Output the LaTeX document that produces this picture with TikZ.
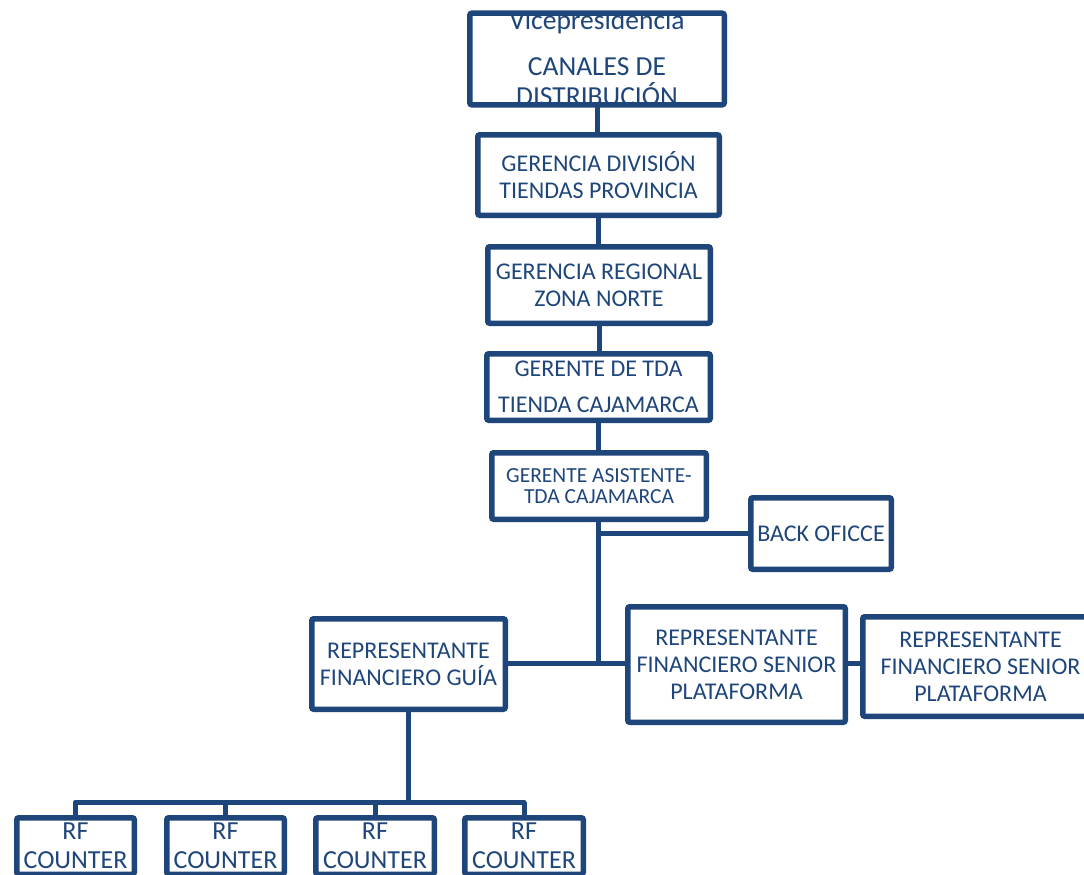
\documentclass[tikz,border=0pt]{standalone}
\usepackage{fontspec}
\setmainfont{Carlito}
\definecolor{navy}{RGB}{31,70,122}
\tikzset{
  x=1pt, y=-1pt,
  orgbox/.style={draw=navy, line width=5.5pt, rounded corners=2pt, fill=white,
    text=navy, align=center, inner sep=0pt, outer sep=0pt},
  link/.style={draw=navy, line width=5pt},
  txtA/.style={font=\fontsize{24}{27}\selectfont},
  txtB/.style={font=\fontsize{21.5}{20.5}\selectfont},
  txtV/.style={font=\fontsize{27.5}{30}\selectfont, text=navy, anchor=base, inner sep=0pt},
  txtC/.style={font=\fontsize{26}{29}\selectfont},
}
\newcommand{\orgnode}[6]{%
  \node[orgbox,#6,minimum width=#3pt-5.5pt,minimum height=#4pt-5.5pt] (#1) at #2 {#5};}
\begin{document}
\begin{tikzpicture}
\useasboundingbox (0,0) rectangle (1084,875);
\fill[white] (0,0) rectangle (1084,875);
\begin{scope}
\clip (0,0) rectangle (1084,875);

% boxes
\orgnode{gd}{(598.5,175)}{247}{86}{GERENCIA DIVISIÓN\\TIENDAS PROVINCIA}{txtA}
\orgnode{gr}{(599,285)}{228}{82}{GERENCIA REGIONAL\\ZONA NORTE}{txtA}
\orgnode{gt}{(598.5,387)}{229}{72}{GERENTE DE TDA\\[9pt]TIENDA CAJAMARCA}{txtA}
\orgnode{ga}{(599,484)}{220}{72}{GERENTE ASISTENTE-\\TDA CAJAMARCA}{txtB,yshift=-2pt}
\orgnode{bo}{(821,533.5)}{146}{77}{BACK OFICCE}{txtA}
\orgnode{rg}{(408.5,664)}{199}{96}{REPRESENTANTE\\FINANCIERO GUÍA}{txtA}
\orgnode{rsa}{(736.5,664.5)}{223}{121}{REPRESENTANTE\\FINANCIERO SENIOR\\PLATAFORMA}{txtA}
\orgnode{rsb}{(980.5,666.5)}{241}{105}{REPRESENTANTE\\FINANCIERO SENIOR\\PLATAFORMA}{txtA}
\orgnode{rc1}{(75.5,846)}{123}{62}{RF\\COUNTER}{txtC}
\orgnode{rc2}{(225.5,846)}{123}{62}{RF\\COUNTER}{txtC}
\orgnode{rc3}{(375,846)}{124}{62}{RF\\COUNTER}{txtC}
\orgnode{rc4}{(524,846)}{124}{62}{RF\\COUNTER}{txtC}

% top box: text first, frame drawn over it
\node[orgbox,draw=none,fill=none,minimum width=254.5pt,minimum height=91.5pt] (vp) at (597,59) {};
\begin{scope}
\clip (469.75,13.25) rectangle (724.25,104.75);
\node[txtV] (vpa) at (597,30) {Vicepresidencia};
\node[txtV] (vpb) at (597,75) {CANALES DE};
\node[txtV] (vpc) at (597,105) {DISTRIBUCIÓN};
\end{scope}
\draw[navy,line width=5.5pt,rounded corners=2pt] (vp.north west) rectangle (vp.south east);

% chain of command
\draw[link] (vp.south) -- (vp.south |- gd.north);
\draw[link] (gd.south) -- (gd.south |- gr.north);
\draw[link] (gr.south) -- (gr.south |- gt.north);
\draw[link] (gt.south) -- (gt.south |- ga.north);
\coordinate (trunk) at (598,663);
\draw[link] (ga.south -| trunk) -- (trunk);
\draw[link] (bo.west -| trunk) -- (bo.west);
\draw[link] (rg.east |- trunk) -- (rsa.west |- trunk);
\draw[link] (rsa.east |- trunk) -- (rsb.west |- trunk);

% guide to counters
\coordinate (bus) at (409,802);
\draw[link] (rg.south) -- (rg.south |- bus);
\draw[link,line cap=round] (rc1.north |- bus) -- (rc4.north |- bus);
\foreach \n in {rc1,rc2,rc3,rc4}
  \draw[link] (\n.north |- bus) -- (\n.north);
\end{scope}
\end{tikzpicture}
\end{document}
